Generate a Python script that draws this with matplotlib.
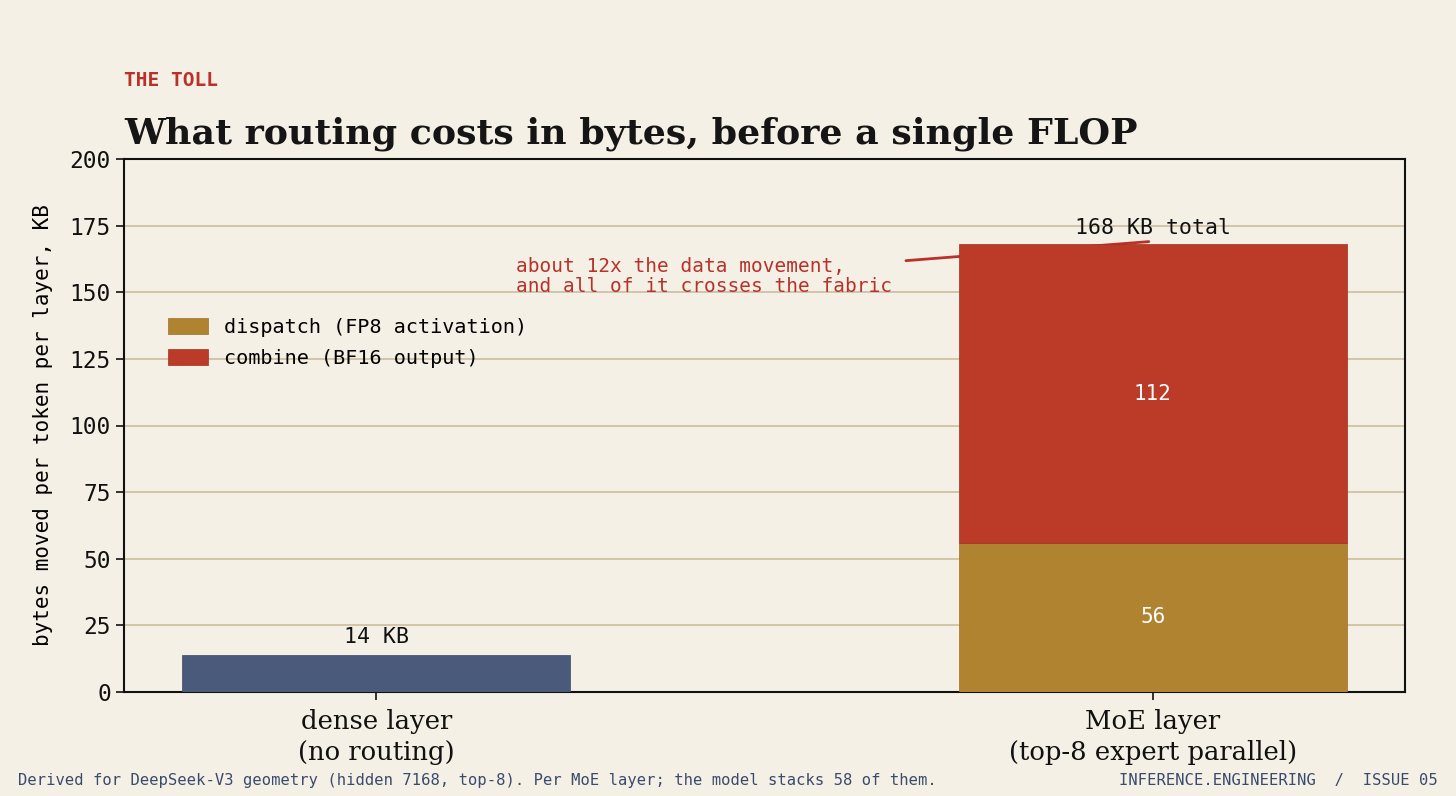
import matplotlib.pyplot as plt

categories = ["dense layer\n(no routing)", "MoE layer\n(top-8 expert parallel)"]
dense_kb = [14]
dispatch_kb = [56]
combine_kb = [112]
yticks = [0, 25, 50, 75, 100, 125, 150, 175, 200]

bg = "#f5f0e6"
navy = "#4a5a7a"
ochre = "#b08330"
brick = "#bb3a28"
red = "#b8322a"
mono = "DejaVu Sans Mono"
serif = "DejaVu Serif"

fig = plt.figure(figsize=(14.56, 7.96), dpi=100, facecolor=bg)
ax = fig.add_axes([124 / 1456, 1 - 692 / 796, (1405 - 124) / 1456, (692 - 159) / 796])
ax.set_facecolor(bg)

w = 0.5
ax.bar([0], dense_kb, width=w, color=navy, edgecolor="#3a4866", linewidth=0.5, zorder=3)
ax.bar([1], dispatch_kb, width=w, color=ochre, edgecolor="#9a7028", linewidth=0.5,
       zorder=3, label="dispatch (FP8 activation)")
ax.bar([1], combine_kb, bottom=dispatch_kb, width=w, color=brick, edgecolor="#a03020",
       linewidth=0.5, zorder=3, label="combine (BF16 output)")

total = dispatch_kb[0] + combine_kb[0]
ax.text(0, dense_kb[0] + 3, f"{dense_kb[0]} KB", ha="center", va="bottom",
        family=mono, fontsize=15.5, color="#111111")
ax.text(1, total + 2.5, f"{total} KB total", ha="center", va="bottom",
        family=mono, fontsize=15.5, color="#111111")
ax.text(1, dispatch_kb[0] / 2, f"{dispatch_kb[0]}", ha="center", va="center",
        family=mono, fontsize=15, color="white", zorder=4)
ax.text(1, dispatch_kb[0] + combine_kb[0] / 2, f"{combine_kb[0]}", ha="center", va="center",
        family=mono, fontsize=15, color="white", zorder=4)

ax.annotate("about 12x the data movement,\nand all of it crosses the fabric",
            xy=(0.995, 169), xytext=(0.18, 148.5), textcoords="data",
            ha="left", va="bottom", family=mono, fontsize=14, color=red,
            linespacing=1.1, zorder=2,
            arrowprops=dict(arrowstyle="-", color=red, lw=2,
                            shrinkA=8, shrinkB=0))

ax.set_xlim(-0.325, 1.325)
ax.set_ylim(0, 200)
ax.set_yticks(yticks)
ax.set_xticks([0, 1])
ax.set_xticklabels(categories, family=serif, fontsize=18.6, linespacing=1.3)
for lab in ax.get_yticklabels():
    lab.set_family(mono)
    lab.set_fontsize(16.5)
ax.set_ylabel("bytes moved per token per layer, KB", family=mono, fontsize=15, labelpad=12)
ax.yaxis.grid(True, color="#cbbd9e", linewidth=1.2, zorder=0)
ax.set_axisbelow(True)
for s in ax.spines.values():
    s.set_linewidth(1.5)
    s.set_color("#111111")
ax.tick_params(axis="both", length=6, width=1.2, colors="#111111")
ax.tick_params(axis="x", pad=6)

leg = ax.legend(loc="upper left", bbox_to_anchor=(0.02, 0.736), frameon=False,
                prop={"family": mono, "size": 14.5}, handlelength=2.0,
                handleheight=0.8, labelspacing=0.6)

fig.text(124 / 1456, 1 - 80 / 796, "THE TOLL", family=mono, fontweight="bold",
         fontsize=14, color=red, va="center")
fig.text(124 / 1456, 1 - 134 / 796, "What routing costs in bytes, before a single FLOP",
         family=serif, fontweight="bold", fontsize=26.2, color="#151515", va="center")
fig.text(18 / 1456, 1 - 780 / 796,
         "Derived for DeepSeek-V3 geometry (hidden 7168, top-8). Per MoE layer; the model stacks 58 of them.",
         family=mono, fontsize=11.2, color="#3a4a6a", va="center")
fig.text(1438 / 1456, 1 - 780 / 796, "INFERENCE.ENGINEERING  /  ISSUE 05",
         family=mono, fontsize=11.2, color="#3a4a6a", va="center", ha="right")

fig.savefig("out.png", dpi=100, facecolor=bg)
